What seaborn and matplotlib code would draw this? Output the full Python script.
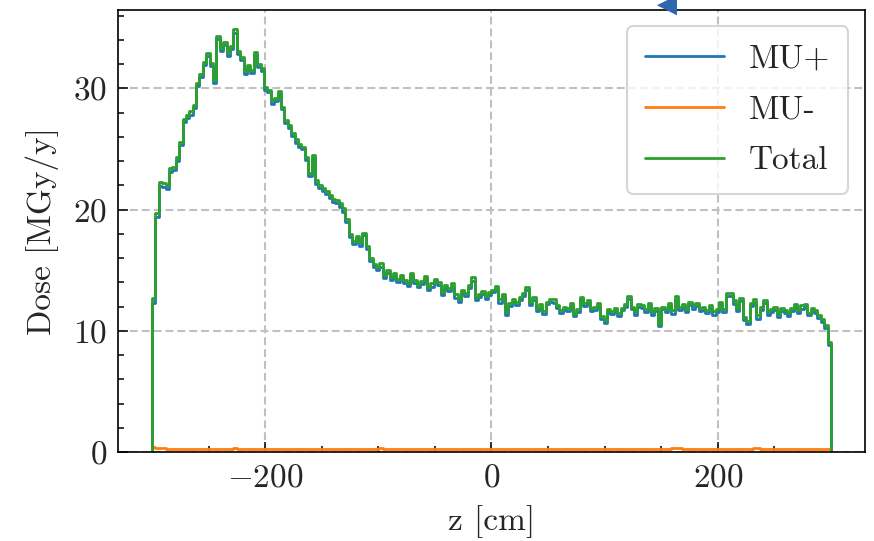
import numpy as np
import pandas as pd
import matplotlib
matplotlib.use("Agg")
import matplotlib.pyplot as plt
import seaborn as sns
from matplotlib.ticker import MultipleLocator
from matplotlib.lines import Line2D

# ---------------- data ----------------
z_min, z_max, bin_width = -300, 300, 3

total = [
    12.7, 19.7, 22.3, 22.2, 22.0, 23.4, 23.5, 24.3, 25.6, 27.5,
    27.8, 28.1, 28.6, 30.4, 31.2, 32.2, 32.9, 32.1, 30.7, 34.3,
    33.3, 33.8, 32.9, 33.5, 34.9, 33.1, 32.6, 31.4, 31.9, 31.5,
    33.0, 32.0, 31.7, 30.1, 29.9, 29.0, 29.2, 29.8, 28.5, 27.4,
    27.0, 26.3, 25.8, 25.4, 25.2, 24.3, 23.0, 24.5, 22.4, 22.0,
    21.8, 21.5, 21.2, 20.9, 20.8, 20.5, 20.1, 19.2, 18.0, 17.4,
    17.8, 17.3, 18.1, 17.0, 16.0, 15.5, 15.3, 15.6, 14.6, 15.0,
    14.4, 14.8, 14.3, 14.6, 14.2, 13.9, 14.8, 14.2, 13.8, 14.1,
    14.5, 13.6, 13.9, 14.3, 14.0, 13.2, 13.8, 13.5, 13.9, 13.0,
    12.6, 13.4, 13.1, 13.8, 14.4, 12.8, 13.0, 13.3, 12.9, 13.2,
    13.4, 13.7, 12.6, 13.0, 11.6, 12.3, 12.6, 12.4, 12.8, 13.1,
    13.6, 12.4, 12.8, 11.9, 12.2, 11.6, 12.4, 12.6, 12.6, 12.1,
    11.7, 12.0, 11.9, 12.3, 11.4, 11.8, 12.8, 12.3, 12.5, 11.9,
    12.0, 12.3, 11.2, 10.9, 11.8, 11.6, 11.9, 11.5, 11.9, 12.2,
    12.9, 12.0, 11.6, 12.2, 12.1, 11.8, 12.3, 11.6, 11.9, 10.6,
    12.0, 11.8, 12.3, 11.7, 12.9, 12.0, 12.2, 11.8, 12.4, 12.1,
    12.3, 11.9, 12.0, 11.7, 12.1, 11.6, 11.8, 12.4, 11.8, 13.1,
    13.1, 12.5, 11.9, 12.7, 11.1, 10.8, 12.3, 12.6, 11.3, 12.0,
    12.5, 11.6, 11.8, 12.0, 11.4, 11.9, 11.7, 11.5, 11.9, 12.2,
    11.7, 12.1, 12.2, 11.5, 11.9, 11.7, 11.3, 11.0, 10.5, 9.1,
]

mu_minus = [
    0.38, 0.35, 0.33, 0.30, 0.28, 0.27, 0.25, 0.26, 0.24, 0.25,
    0.23, 0.26, 0.24, 0.22, 0.25, 0.27, 0.24, 0.23, 0.25, 0.26,
    0.24, 0.22, 0.25, 0.28, 0.30, 0.27, 0.25, 0.24, 0.26, 0.23,
    0.25, 0.27, 0.24, 0.22, 0.24, 0.26, 0.25, 0.23, 0.22, 0.25,
    0.24, 0.26, 0.28, 0.25, 0.23, 0.24, 0.22, 0.25, 0.27, 0.24,
    0.23, 0.25, 0.26, 0.24, 0.22, 0.25, 0.28, 0.26, 0.24, 0.23,
    0.25, 0.27, 0.24, 0.26, 0.23, 0.25, 0.28, 0.30, 0.26, 0.24,
    0.22, 0.25, 0.24, 0.27, 0.25, 0.23, 0.26, 0.24, 0.22, 0.25,
    0.27, 0.24, 0.26, 0.23, 0.25, 0.28, 0.24, 0.22, 0.25, 0.27,
    0.24, 0.26, 0.23, 0.25, 0.27, 0.24, 0.22, 0.26, 0.28, 0.25,
    0.23, 0.25, 0.27, 0.24, 0.26, 0.23, 0.25, 0.28, 0.26, 0.24,
    0.22, 0.25, 0.24, 0.26, 0.28, 0.25, 0.23, 0.24, 0.27, 0.25,
    0.24, 0.26, 0.23, 0.25, 0.22, 0.24, 0.27, 0.25, 0.23, 0.26,
    0.28, 0.25, 0.24, 0.26, 0.23, 0.25, 0.27, 0.24, 0.22, 0.25,
    0.26, 0.24, 0.27, 0.25, 0.23, 0.26, 0.24, 0.28, 0.25, 0.23,
    0.24, 0.26, 0.25, 0.32, 0.35, 0.30, 0.26, 0.24, 0.25, 0.27,
    0.23, 0.25, 0.27, 0.24, 0.26, 0.28, 0.25, 0.23, 0.24, 0.26,
    0.25, 0.27, 0.24, 0.22, 0.25, 0.26, 0.28, 0.34, 0.31, 0.25,
    0.24, 0.26, 0.23, 0.25, 0.27, 0.24, 0.26, 0.25, 0.23, 0.26,
    0.24, 0.27, 0.25, 0.23, 0.26, 0.24, 0.25, 0.27, 0.26, 0.24,
]

mu_plus = [t - m for t, m in zip(total, mu_minus)]

series_labels = ["MU+", "MU-", "Total"]
series_colors = ["#1f77b4", "#ff7f0e", "#2ca02c"]

marker_z = [155]
marker_dose = [36.85]

x_label = "z [cm]"
y_label = "Dose [MGy/y]"

# ---------------- style ----------------
sns.set_theme(style="ticks")
FS = 24
plt.rcParams.update({
    "font.family": "cmr10",
    "mathtext.fontset": "cm",
    "axes.formatter.use_mathtext": True,
    "axes.unicode_minus": True,
    "font.size": FS,
    "axes.labelsize": FS,
    "xtick.labelsize": FS,
    "ytick.labelsize": FS,
    "legend.fontsize": FS,
    "axes.edgecolor": "black",
    "axes.linewidth": 1.2,
})

# ---------------- build long table ----------------
edges = np.arange(z_min, z_max + bin_width, bin_width)
frames = []
for lab, vals in zip(series_labels, [mu_plus, mu_minus, total]):
    xs = np.concatenate([[edges[0]], edges])
    ys = np.concatenate([[0.0], vals, [0.0]])
    frames.append(pd.DataFrame({"z": xs, "dose": ys, "series": lab,
                                "order": np.arange(len(xs))}))
df = pd.concat(frames, ignore_index=True)

fig = plt.figure(figsize=(8.74, 5.41), dpi=100)
ax = fig.add_axes([0.135, 0.1645, 0.8547, 0.8179])

sns.lineplot(data=df, x="z", y="dose", hue="series", hue_order=series_labels,
             palette=series_colors, estimator=None, sort=False,
             drawstyle="steps-post", linewidth=2.0, legend=False, ax=ax)

sns.scatterplot(x=marker_z, y=marker_dose, marker="<", s=210,
                color="#2f66ad", edgecolor="none", clip_on=False,
                zorder=6, ax=ax)

ax.set_xlim(-330, 330)
ax.set_ylim(0, 36.5)
ax.set_xlabel(x_label, labelpad=9)
ax.set_ylabel(y_label, labelpad=10)

ax.xaxis.set_major_locator(MultipleLocator(200))
ax.xaxis.set_minor_locator(MultipleLocator(50))
ax.yaxis.set_major_locator(MultipleLocator(10))
ax.yaxis.set_minor_locator(MultipleLocator(2))
ax.tick_params(which="both", direction="in", top=False, right=False,
               color="black", width=1.1)
ax.tick_params(which="major", length=7, pad=8)
ax.tick_params(which="minor", length=4)

ax.grid(True, which="major", linestyle=(0, (3.8, 1.9)), color="#c0c0c0",
        linewidth=1.5)
ax.set_axisbelow(True)
for s in ax.spines.values():
    s.set_visible(True)
    s.set_color("black")
    s.set_linewidth(1.2)

handles = [Line2D([], [], color=c, linewidth=2.0) for c in series_colors]
leg = ax.legend(handles, series_labels, loc="upper right", frameon=True,
                fancybox=True, framealpha=0.8, edgecolor="#cccccc",
                handlelength=2.35, handletextpad=0.75, borderpad=0.55,
                labelspacing=0.64)
leg.get_frame().set_linewidth(1.5)

fig.savefig("out.png", dpi=100)
